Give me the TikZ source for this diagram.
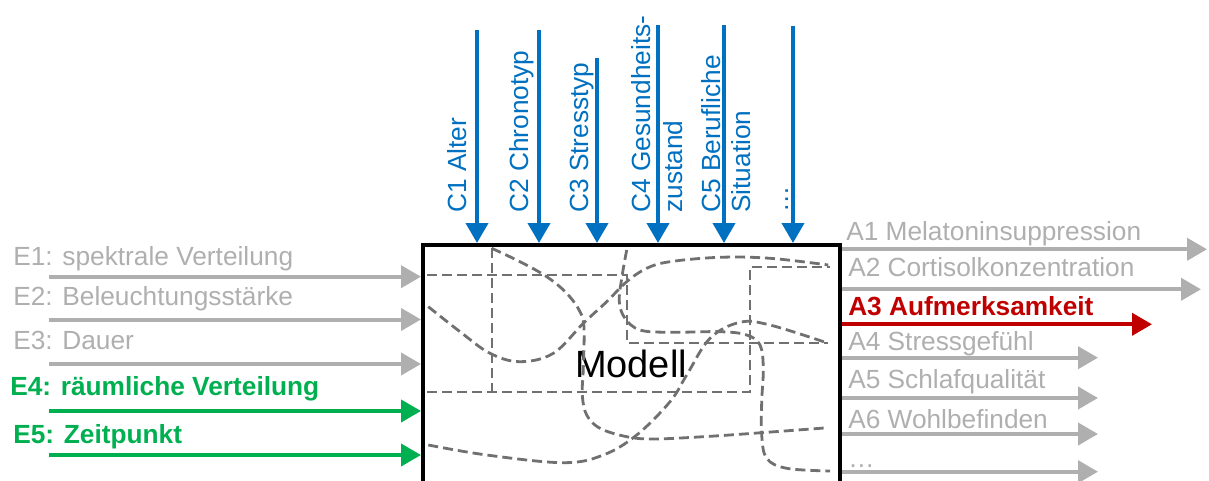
\documentclass[tikz,border=0pt]{standalone}
\usepackage{fontspec}
\setmainfont{Liberation Sans}
\usetikzlibrary{arrows.meta,fit}
\definecolor{lgray}{HTML}{AFAFAF}
\definecolor{pgreen}{HTML}{00B050}
\definecolor{pblue}{HTML}{0070C0}
\definecolor{pred}{HTML}{C00000}
\definecolor{dgray}{HTML}{707070}
\begin{document}
\begin{tikzpicture}[x=0.75pt,y=-0.75pt,
 lbl/.style={inner sep=0pt, anchor=base west, font=\fontsize{19.7}{23.6}\selectfont},
 glbl/.style={lbl, text=lgray},
 vlbl/.style={lbl, rotate=90, text=pblue},
 arr/.style={line width=3pt, -{Triangle[length=15pt,width=16.5pt]}},
 dsh/.style={dgray, line width=2.1pt, dash pattern=on 7.5pt off 3.75pt},
]
\useasboundingbox (0,0) rectangle (1209,481);
\clip (0,0) rectangle (1209,481);

% model box
\node[draw=black, line width=3pt, inner sep=0pt, fit={(423,245) (840,560)}] (model) {};
\node[inner sep=0pt, anchor=base, font=\fontsize{28.5}{34}\selectfont] (mtxt) at (631,377) {Modell};

% dashed internals
\draw[dsh] (427,275) -- (627,275) -- (627,343) -- (828,343);
\draw[dsh] (492,248) -- (492,392);
\draw[dsh] (427,392) -- (750,392) -- (750,267) -- (830,267);
\draw[dsh] plot[smooth, tension=0.6] coordinates {(491.7,248.3) (520,261.7) (546.7,276.7) (566.7,293.3) (580,311.7) (584,328.3) (583.3,368.3) (582.3,395) (586.7,415) (600,428.3) (626.7,436.7) (653.3,439) (703.3,436.7) (753.3,433.3) (828.3,427.7)};
\draw[dsh] plot[smooth, tension=0.6] coordinates {(428.3,306.7) (460,331.7) (490,353.3) (520,361.7) (553.3,353.3) (583.3,323.3) (606.7,301.7) (626.7,281.7) (646.7,268.3) (670,261.7) (720,257.3) (770,258.3) (828.3,265)};
\draw[dsh] plot[smooth, tension=0.6] coordinates {(626.7,250) (621.7,278.3) (619.3,301.7) (625,318.3) (640,330) (670,332.3) (720,331.7) (746.7,335) (760,345) (763.3,368.3) (761.7,401.7) (761.7,435) (766.7,458.3) (786.7,468.3) (830,471)};
\draw[dsh] plot[smooth, tension=0.6] coordinates {(428.3,445) (486.7,455) (563.3,462.7) (603.3,455) (636.7,435) (670,401.7) (686.7,375) (710,338.3) (740,322.3) (770,325) (828.3,343.3)};

% inputs
\node[glbl] (e1) at (13,265) {E1: spektrale Verteilung};
\node[glbl] (e2) at (13,305) {E2: Beleuchtungsstärke};
\node[glbl] (e3) at (13,349) {E3: Dauer};
\node[lbl, text=pgreen, font=\fontsize{19.7}{23.6}\selectfont\bfseries] (e4) at (10,395) {E4: räumliche Verteilung};
\node[lbl, text=pgreen, font=\fontsize{19.7}{23.6}\selectfont\bfseries] (e5) at (13,443) {E5: Zeitpunkt};
\coordinate (e1s) at (49,276.7);
\coordinate (e2s) at (49,319.5);
\coordinate (e3s) at (49,364);
\coordinate (e4s) at (49,411);
\coordinate (e5s) at (49,455);
\draw[arr, lgray] (e1s) -- (e1s -| model.west);
\draw[arr, lgray] (e2s) -- (e2s -| model.west);
\draw[arr, lgray] (e3s) -- (e3s -| model.west);
\draw[arr, pgreen] (e4s) -- (e4s -| model.west);
\draw[arr, pgreen] (e5s) -- (e5s -| model.west);

% constraints
\node[vlbl] (c1) at (466.7,213) {C1 Alter};
\node[vlbl] (c2) at (528,213) {C2 Chronotyp};
\node[vlbl] (c3) at (588,213) {C3 Stresstyp};
\node[vlbl] (c4a) at (650,213) {C4 Gesundheits-};
\node[vlbl] (c4b) at (682,213) {zustand};
\node[vlbl] (c5a) at (720,213) {C5 Berufliche};
\node[vlbl] (c5b) at (750,213) {Situation};
\node[vlbl] (c6) at (788,213) {…};
\coordinate (c1s) at (477,30);
\coordinate (c2s) at (539,30);
\coordinate (c3s) at (597,58);
\coordinate (c4s) at (658,25);
\coordinate (c5s) at (724,25);
\coordinate (c6s) at (793,26);
\foreach \c in {c1s,c2s,c3s,c4s,c5s,c6s}
  \draw[arr, pblue] (\c) -- (\c |- model.north);

% outputs
\node[glbl] (a1) at (846,240.7) {A1 Melatoninsuppression};
\node[glbl] (a2) at (848,276.7) {A2 Cortisolkonzentration};
\node[lbl, text=pred, font=\fontsize{19.7}{23.6}\selectfont\bfseries] (a3) at (848,315) {A3 Aufmerksamkeit};
\node[glbl] (a4) at (848,350) {A4 Stressgefühl};
\node[glbl] (a5) at (848,388) {A5 Schlafqualität};
\node[glbl] (a6) at (848,428) {A6 Wohlbefinden};
\node[glbl] (a7) at (848,467) {…};
\coordinate (a1e) at (1207,249.3);
\coordinate (a2e) at (1201,289.3);
\coordinate (a3e) at (1152,324.3);
\coordinate (a4e) at (1098,357.7);
\coordinate (a5e) at (1098,398);
\coordinate (a6e) at (1098,434);
\coordinate (a7e) at (1098,471.7);
\draw[arr, lgray] (a1e -| model.east) -- (a1e);
\draw[arr, lgray] (a2e -| model.east) -- (a2e);
\draw[arr, pred] (a3e -| model.east) -- (a3e);
\draw[arr, lgray] (a4e -| model.east) -- (a4e);
\draw[arr, lgray] (a5e -| model.east) -- (a5e);
\draw[arr, lgray] (a6e -| model.east) -- (a6e);
\draw[arr, lgray] (a7e -| model.east) -- (a7e);
\end{tikzpicture}
\end{document}
